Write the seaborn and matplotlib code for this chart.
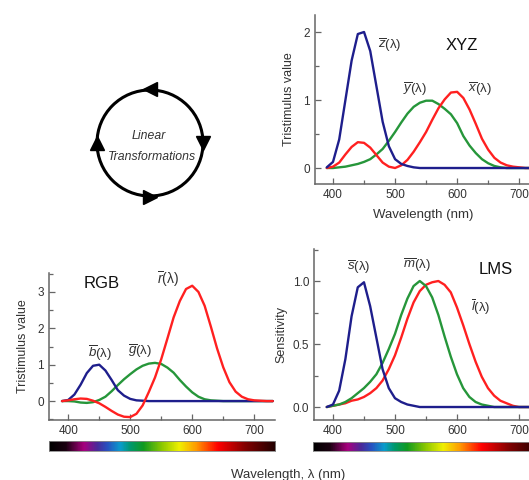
import numpy as np
import pandas as pd
import matplotlib
matplotlib.use('Agg')
import matplotlib.pyplot as plt
from matplotlib.colors import LinearSegmentedColormap, Normalize
from matplotlib.patches import Circle
from matplotlib.ticker import MultipleLocator
import seaborn as sns

# wavelength grid (nm) shared by all panels
wavelength = list(range(390, 740, 10))

# XYZ colour matching functions
xyz_x = [0.00, 0.02, 0.08, 0.20, 0.31, 0.38, 0.37, 0.30, 0.19, 0.08, 0.02, 0.00, 0.04, 0.12, 0.24, 0.38, 0.53, 0.71,
         0.88, 1.01, 1.11, 1.12, 1.03, 0.86, 0.65, 0.43, 0.27, 0.15, 0.08, 0.04, 0.02, 0.01, 0.00, 0.00, 0.00]
xyz_y = [0.00, 0.00, 0.01, 0.02, 0.04, 0.06, 0.09, 0.13, 0.20, 0.28, 0.40, 0.53, 0.67, 0.80, 0.90, 0.96, 0.99, 0.99,
         0.94, 0.87, 0.79, 0.66, 0.47, 0.33, 0.22, 0.13, 0.07, 0.03, 0.01, 0.00, 0.00, 0.00, 0.00, 0.00, 0.00]
xyz_z = [0.01, 0.09, 0.42, 1.00, 1.58, 1.97, 2.00, 1.72, 1.20, 0.68, 0.32, 0.13, 0.06, 0.03, 0.01, 0.00, 0.00, 0.00,
         0.00, 0.00, 0.00, 0.00, 0.00, 0.00, 0.00, 0.00, 0.00, 0.00, 0.00, 0.00, 0.00, 0.00, 0.00, 0.00, 0.00]

# RGB colour matching functions
rgb_r = [0.00, 0.02, 0.05, 0.07, 0.06, 0.01, -0.06, -0.16, -0.27, -0.37, -0.43, -0.44, -0.35, -0.12, 0.25, 0.65,
         1.15, 1.72, 2.30, 2.75, 3.08, 3.17, 3.00, 2.62, 2.05, 1.45, 0.93, 0.52, 0.26, 0.12, 0.05, 0.02, 0.01, 0.00, 0.00]
rgb_g = [0.00, 0.00, -0.01, -0.04, -0.05, -0.03, 0.03, 0.12, 0.27, 0.44, 0.60, 0.74, 0.87, 0.97, 1.03, 1.05, 1.02,
         0.92, 0.78, 0.58, 0.40, 0.24, 0.12, 0.05, 0.02, 0.01, 0.00, 0.00, 0.00, 0.00, 0.00, 0.00, 0.00, 0.00, 0.00]
rgb_b = [0.00, 0.03, 0.18, 0.45, 0.77, 0.97, 1.00, 0.84, 0.58, 0.30, 0.15, 0.06, 0.02, 0.01, 0.00, 0.00, 0.00,
         0.00, 0.00, 0.00, 0.00, 0.00, 0.00, 0.00, 0.00, 0.00, 0.00, 0.00, 0.00, 0.00, 0.00, 0.00, 0.00, 0.00, 0.00]

# LMS cone sensitivities
lms_l = [0.00, 0.01, 0.02, 0.03, 0.05, 0.06, 0.08, 0.11, 0.15, 0.21, 0.30, 0.41, 0.55, 0.70, 0.83, 0.92, 0.97,
         0.99, 1.00, 0.97, 0.91, 0.79, 0.65, 0.50, 0.36, 0.24, 0.15, 0.09, 0.05, 0.03, 0.01, 0.00, 0.00, 0.00, 0.00]
lms_m = [0.00, 0.01, 0.02, 0.04, 0.07, 0.11, 0.15, 0.20, 0.26, 0.35, 0.46, 0.58, 0.73, 0.86, 0.96, 1.00, 0.96,
         0.87, 0.73, 0.56, 0.40, 0.26, 0.15, 0.08, 0.04, 0.02, 0.01, 0.00, 0.00, 0.00, 0.00, 0.00, 0.00, 0.00, 0.00]
lms_s = [0.00, 0.02, 0.13, 0.38, 0.72, 0.95, 0.99, 0.80, 0.55, 0.30, 0.15, 0.07, 0.04, 0.02, 0.01, 0.00, 0.00,
         0.00, 0.00, 0.00, 0.00, 0.00, 0.00, 0.00, 0.00, 0.00, 0.00, 0.00, 0.00, 0.00, 0.00, 0.00, 0.00, 0.00, 0.00]

# spectrum strip colour stops
spec_nm = [369, 395, 424, 446, 462, 483, 500, 520, 550, 578, 605, 640, 685, 733]
spec_colors = ['#000000', '#1a0010', '#a8007e', '#4a2a9a', '#2850c0', '#0a9ccc', '#00986a', '#109a20',
               '#8cc800', '#f0f000', '#ff9a00', '#ff0000', '#800000', '#200000']

RED, GREEN, BLUE = '#ff2020', '#26963a', '#1e1e8c'
TXT = '#333333'

sns.set_style('ticks')
plt.rcParams['font.family'] = ['Liberation Sans', 'DejaVu Sans']
plt.rcParams['mathtext.fontset'] = 'custom'
plt.rcParams['mathtext.it'] = 'Liberation Sans:italic'
plt.rcParams['mathtext.rm'] = 'Liberation Sans'
plt.rcParams['lines.solid_joinstyle'] = 'round'

W, H = 529, 480
fig = plt.figure(figsize=(W / 100, H / 100), dpi=100)


def px_rect(left, top, right, bottom):
    return [left / W, 1 - bottom / H, (right - left) / W, (bottom - top) / H]


def style_axes(ax, xlim, ylim, ymajor, yminor):
    sns.despine(ax=ax)
    ax.set_xlim(*xlim)
    ax.set_ylim(*ylim)
    ax.xaxis.set_major_locator(MultipleLocator(100))
    ax.xaxis.set_minor_locator(MultipleLocator(50))
    ax.yaxis.set_major_locator(MultipleLocator(ymajor))
    ax.yaxis.set_minor_locator(MultipleLocator(yminor))
    ax.tick_params(which='both', direction='in', width=0.9, colors='#666666', labelcolor=TXT, labelsize=8.5)
    ax.tick_params(which='major', length=4)
    ax.tick_params(which='minor', length=3)
    for s in ['left', 'bottom']:
        ax.spines[s].set_color('#666666')
        ax.spines[s].set_linewidth(1.1)
    ax.set_facecolor('none')


def draw(ax, df, cols, colors):
    long = df.melt(id_vars='wl', value_vars=cols, var_name='curve', value_name='val')
    sns.lineplot(data=long, x='wl', y='val', hue='curve', palette=dict(zip(cols, colors)),
                 linewidth=1.7, legend=False, ax=ax)
    ax.set_xlabel('')
    ax.set_ylabel('')


df = pd.DataFrame({'wl': wavelength, 'x': xyz_x, 'y': xyz_y, 'z': xyz_z,
                   'r': rgb_r, 'g': rgb_g, 'b': rgb_b, 'l': lms_l, 'm': lms_m, 's': lms_s})

# XYZ panel
ax1 = fig.add_axes(px_rect(315, 15, 531, 184))
draw(ax1, df, ['y', 'x', 'z'], [GREEN, RED, BLUE])
style_axes(ax1, (371, 719), (-0.235, 2.25), 1, 0.5)
ax1.set_xlabel('Wavelength (nm)', fontsize=9.5, color=TXT, labelpad=6)
ax1.set_ylabel('Tristimulus value', fontsize=9, color=TXT, labelpad=6)
ax1.text(492, 1.81, r'$\overline{z}$(λ)', fontsize=9.5, color=TXT, ha='center', va='center')
ax1.text(532, 1.15, r'$\overline{y}$(λ)', fontsize=9.5, color=TXT, ha='center', va='center')
ax1.text(636, 1.15, r'$\overline{x}$(λ)', fontsize=9.5, color=TXT, ha='center', va='center')
ax1.text(607, 1.80, 'XYZ', fontsize=12, color='#111111', ha='center', va='center')

# RGB panel
ax2 = fig.add_axes(px_rect(49, 273, 275, 420))
draw(ax2, df, ['g', 'b', 'r'], [GREEN, BLUE, RED])
style_axes(ax2, (369, 733.5), (-0.52, 3.52), 1, 0.5)
ax2.set_ylabel('Tristimulus value', fontsize=9, color=TXT, labelpad=6)
ax2.text(454, 3.22, 'RGB', fontsize=12, color='#111111', ha='center', va='center')
ax2.text(561, 3.36, r'$\overline{r}$(λ)', fontsize=10, color=TXT, ha='center', va='center')
ax2.text(451, 1.32, r'$\overline{b}$(λ)', fontsize=9.5, color=TXT, ha='center', va='center')
ax2.text(516, 1.37, r'$\overline{g}$(λ)', fontsize=9.5, color=TXT, ha='center', va='center')

# LMS panel
ax3 = fig.add_axes(px_rect(314, 249, 531, 420))
draw(ax3, df, ['l', 'm', 's'], [RED, GREEN, BLUE])
style_axes(ax3, (369.4, 719.4), (-0.103, 1.254), 0.5, 0.25)
ax3.yaxis.set_major_formatter(matplotlib.ticker.FormatStrFormatter('%.1f'))
ax3.set_ylabel('Sensitivity', fontsize=9, color=TXT, labelpad=4)
ax3.text(441, 1.106, r'$\overline{s}$(λ)', fontsize=9.5, color=TXT, ha='center', va='center')
ax3.text(535, 1.124, r'$\overline{m}$(λ)', fontsize=9.5, color=TXT, ha='center', va='center')
ax3.text(639, 0.79, r'$\overline{l}$(λ)', fontsize=9.5, color=TXT, ha='center', va='center')
ax3.text(663, 1.09, 'LMS', fontsize=12, color='#111111', ha='center', va='center')

# spectrum strips under the bottom panels
norm = Normalize(spec_nm[0], spec_nm[-1])
spec_cmap = LinearSegmentedColormap.from_list(
    'spec', [((n - spec_nm[0]) / (spec_nm[-1] - spec_nm[0]), c) for n, c in zip(spec_nm, spec_colors)])
strip = np.arange(spec_nm[0], spec_nm[-1] + 1).reshape(1, -1)
for rect, xl in [(px_rect(49, 441, 275, 451), ax2.get_xlim()), (px_rect(313, 442, 531, 451), ax3.get_xlim())]:
    cax = fig.add_axes(rect)
    cax.imshow(strip, cmap=spec_cmap, norm=norm, aspect='auto',
               extent=(spec_nm[0], spec_nm[-1] + 1, 0, 1))
    cax.set_xlim(*xl)
    cax.set_xticks([])
    cax.set_yticks([])
    for s in cax.spines.values():
        s.set_color('#888888')
        s.set_linewidth(0.6)

fig.text(288 / W, 1 - 475 / H, 'Wavelength, λ (nm)', fontsize=9.5, color=TXT, ha='center', va='center')

# linear transformations diagram
dax = fig.add_axes([0, 0, 1, 1], zorder=-1)
dax.set_xlim(0, W)
dax.set_ylim(H, 0)
dax.axis('off')
dax.add_patch(Circle((150, 143), 53, fill=False, lw=2.2, color='black'))
for mx, my, mk in [(150, 89, '<'), (203, 143, 'v'), (150, 197, '>'), (97, 143, '^')]:
    dax.plot(mx, my, marker=mk, markersize=9.5, color='black')
dax.text(149, 136, 'Linear', fontsize=8.8, style='italic', color=TXT, ha='center', va='center')
dax.text(152, 157, 'Transformations', fontsize=8.8, style='italic', color=TXT, ha='center', va='center')

fig.savefig('out.png', dpi=100)
